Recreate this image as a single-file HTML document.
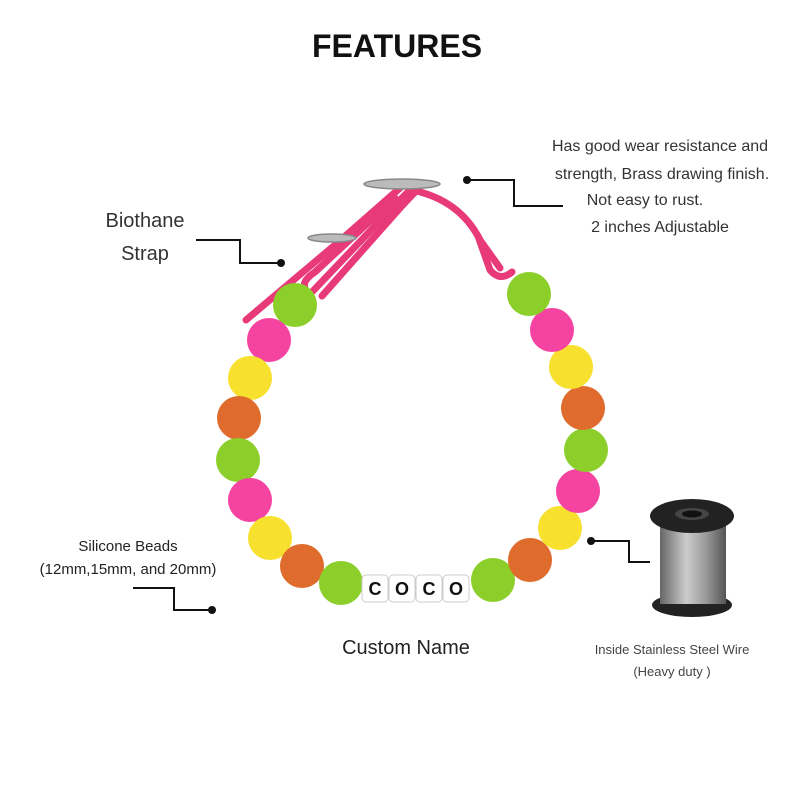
<!DOCTYPE html>
<html><head><style>
body{margin:0;background:#fff;}
svg{display:block;font-family:"Liberation Sans",sans-serif;}
</style></head><body>
<svg width="794" height="794" viewBox="0 0 794 794" xmlns="http://www.w3.org/2000/svg">
<defs>
<linearGradient id="wire" x1="0" x2="1"><stop offset="0" stop-color="#666"/><stop offset="0.4" stop-color="#ccc"/><stop offset="0.7" stop-color="#999"/><stop offset="1" stop-color="#555"/></linearGradient>
</defs>
<text x="397" y="57" text-anchor="middle" font-size="32" font-weight="bold" fill="#111">FEATURES</text>
<g font-size="16" fill="#333" text-anchor="middle">
<text x="660" y="151">Has good wear resistance and</text>
<text x="662" y="179">strength, Brass drawing finish.</text>
<text x="645" y="205">Not easy to rust.</text>
<text x="660" y="232">2 inches Adjustable</text>
</g>
<g font-size="20" fill="#333" text-anchor="middle"><text x="145" y="227">Biothane</text><text x="145" y="260">Strap</text></g>
<g font-size="15" fill="#222" text-anchor="middle"><text x="128" y="551">Silicone Beads</text><text x="128" y="574">(12mm,15mm, and 20mm)</text></g>
<text x="406" y="654" text-anchor="middle" font-size="20" fill="#222">Custom Name</text>
<g font-size="13" fill="#444" text-anchor="middle"><text x="672" y="654">Inside Stainless Steel Wire</text><text x="672" y="676">(Heavy duty )</text></g>
<g stroke="#111" stroke-width="2" fill="none">
<polyline points="196,240 240,240 240,263 281,263"/>
<polyline points="467,180 514,180 514,206 563,206"/>
<polyline points="133,588 174,588 174,610 212,610"/>
<polyline points="591,541 629,541 629,562 650,562"/>
</g>
<g fill="#111"><circle cx="281" cy="263" r="4"/><circle cx="467" cy="180" r="4"/><circle cx="212" cy="610" r="4"/><circle cx="591" cy="541" r="4"/></g>
<!-- strap -->
<g fill="none" stroke="#e83a78" stroke-width="7" stroke-linecap="round" stroke-linejoin="round">
<path d="M246,320 L335,245 L400,188"/>
<path d="M306,290 Q300,282 315,272 L395,198"/>
<path d="M312,292 L395,205 L410,190"/>
<path d="M322,296 L400,208 L415,192"/>
<path d="M412,190 Q460,200 480,240 L500,268"/>
<path d="M478,236 L490,270 Q500,282 512,272"/>
</g>
<g fill="#bbb" stroke="#888" stroke-width="1.5">
<ellipse cx="402" cy="184" rx="38" ry="5"/>
<ellipse cx="332" cy="238" rx="24" ry="4"/>
</g>
<!-- beads -->
<g>
<circle cx="295" cy="305" r="22" fill="#8ccf2a"/>
<circle cx="269" cy="340" r="22" fill="#f543a2"/>
<circle cx="250" cy="378" r="22" fill="#f8e02e"/>
<circle cx="239" cy="418" r="22" fill="#df6c2c"/>
<circle cx="238" cy="460" r="22" fill="#8ccf2a"/>
<circle cx="250" cy="500" r="22" fill="#f543a2"/>
<circle cx="270" cy="538" r="22" fill="#f8e02e"/>
<circle cx="302" cy="566" r="22" fill="#df6c2c"/>
<circle cx="341" cy="583" r="22" fill="#8ccf2a"/>
<circle cx="493" cy="580" r="22" fill="#8ccf2a"/>
<circle cx="530" cy="560" r="22" fill="#df6c2c"/>
<circle cx="560" cy="528" r="22" fill="#f8e02e"/>
<circle cx="578" cy="491" r="22" fill="#f543a2"/>
<circle cx="586" cy="450" r="22" fill="#8ccf2a"/>
<circle cx="583" cy="408" r="22" fill="#df6c2c"/>
<circle cx="571" cy="367" r="22" fill="#f8e02e"/>
<circle cx="552" cy="330" r="22" fill="#f543a2"/>
<circle cx="529" cy="294" r="22" fill="#8ccf2a"/>
</g>
<g fill="#fff" stroke="#ccc">
<rect x="362" y="575" width="26" height="27" rx="4"/>
<rect x="389" y="575" width="26" height="27" rx="4"/>
<rect x="416" y="575" width="26" height="27" rx="4"/>
<rect x="443" y="575" width="26" height="27" rx="4"/>
</g>
<g font-size="18" font-weight="bold" fill="#111" text-anchor="middle"><text x="375" y="595">C</text><text x="402" y="595">O</text><text x="429" y="595">C</text><text x="456" y="595">O</text></g>
<!-- spool -->
<ellipse cx="692" cy="605" rx="40" ry="12" fill="#222"/>
<rect x="660" y="520" width="66" height="84" fill="url(#wire)"/>
<ellipse cx="692" cy="516" rx="42" ry="17" fill="#222"/>
<ellipse cx="692" cy="514" rx="17" ry="6" fill="#444"/>
<ellipse cx="692" cy="514" rx="10" ry="3.5" fill="#111"/>
</svg>
</body></html>
